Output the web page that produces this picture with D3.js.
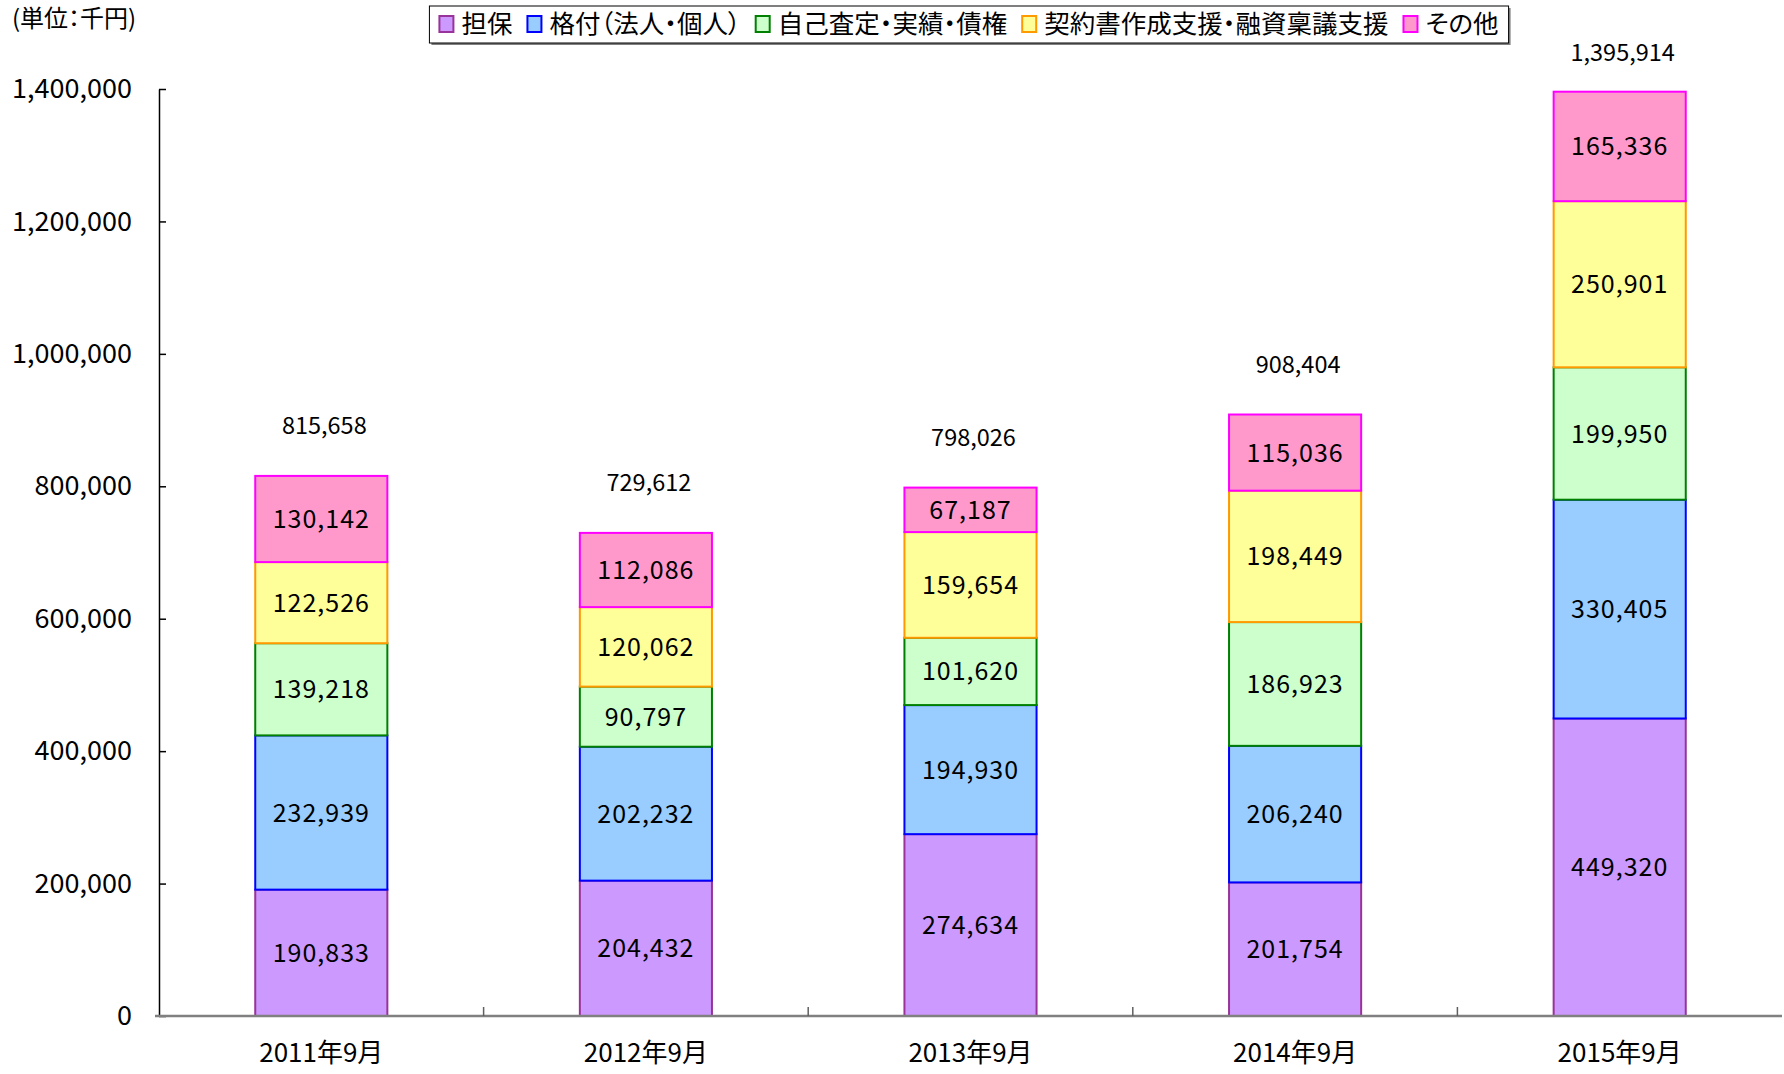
<!DOCTYPE html>
<html>
<head>
<meta charset="utf-8">
<script src="https://cdn.jsdelivr.net/npm/d3@7"></script>
<style>
body { margin: 0; background: #fff; }
text { font-family: "Noto Sans CJK JP", "Noto Sans", sans-serif; font-feature-settings: "palt"; }
</style>
</head>
<body>
<script>
// data (単位：千円)
var categories = ["2011年9月", "2012年9月", "2013年9月", "2014年9月", "2015年9月"];
var seriesNames = ["担保", "格付（法人・個人）", "自己査定・実績・債権", "契約書作成支援・融資稟議支援", "その他"];
var tanpo = [190833, 204432, 274634, 201754, 449320];
var kakuzuke = [232939, 202232, 194930, 206240, 330405];
var jikoSatei = [139218, 90797, 101620, 186923, 199950];
var keiyaku = [122526, 120062, 159654, 198449, 250901];
var sonota = [130142, 112086, 67187, 115036, 165336];
var totals = [815658, 729612, 798026, 908404, 1395914];
var yTicks = [0, 200000, 400000, 600000, 800000, 1000000, 1200000, 1400000];

var fills = ["#cc99ff", "#99ccff", "#ccffcc", "#ffff99", "#ff99cc"];
var strokes = ["#993399", "#0000ff", "#008000", "#ff9900", "#ff00ff"];

var W = 1784, H = 1074;
var svg = d3.select("body").append("svg")
    .attr("width", W)
    .attr("height", H);

var x = d3.scaleBand()
    .domain(categories)
    .range([159, 1782])
    .paddingInner(0.593)
    .paddingOuter(0.2965);
var y = d3.scaleLinear()
    .domain([0, 1400000])
    .range([1016, 89]);

// build the table for d3.stack
var table = categories.map(function (c, i) {
    return { cat: c, s0: tanpo[i], s1: kakuzuke[i], s2: jikoSatei[i], s3: keiyaku[i], s4: sonota[i] };
});
var stack = d3.stack().keys(["s0", "s1", "s2", "s3", "s4"]);
var layers = stack(table);

// y axis
var yAxis = svg.append("g")
    .attr("transform", "translate(159,0)")
    .call(d3.axisLeft(y).tickValues(yTicks).tickSize(-7).tickSizeOuter(0).tickPadding(27).tickFormat(d3.format(",")));
yAxis.select(".domain").attr("stroke", "#000").attr("stroke-width", 1.5);
yAxis.selectAll(".tick line").attr("stroke", "#000").attr("stroke-width", 1.5);
yAxis.selectAll(".tick text")
    .attr("font-size", 27)
    .attr("fill", "#000")
    .style("font-family", "\"Noto Sans CJK JP\", sans-serif");

// bars
layers.forEach(function (layer, k) {
    var g = svg.append("g");
    g.selectAll("rect")
        .data(layer)
        .join("rect")
        .attr("x", function (d) { return x(d.data.cat); })
        .attr("y", function (d) { return y(d[1]); })
        .attr("width", x.bandwidth())
        .attr("height", function (d) { return y(d[0]) - y(d[1]); })
        .attr("fill", fills[k])
        .attr("stroke", strokes[k])
        .attr("stroke-width", 2);
    g.selectAll("text")
        .data(layer)
        .join("text")
        .attr("x", function (d) { return x(d.data.cat) + x.bandwidth() / 2; })
        .attr("y", function (d) { return (y(d[0]) + y(d[1])) / 2; })
        .attr("dy", "0.36em")
        .attr("text-anchor", "middle")
        .attr("font-size", 25)
        .attr("letter-spacing", 1)
        .text(function (d) { return d3.format(",")(d[1] - d[0]); });
});

// x baseline and category ticks
var x0 = x.range()[0], step = x.step();
svg.append("line")
    .attr("x1", x0 - 4).attr("x2", x.range()[1])
    .attr("y1", y(0)).attr("y2", y(0))
    .attr("stroke", "#808080")
    .attr("stroke-width", 2.5);
d3.range(1, categories.length).forEach(function (i) {
    svg.append("line")
        .attr("x1", x0 + i * step).attr("x2", x0 + i * step)
        .attr("y1", y(0)).attr("y2", y(0) - 9)
        .attr("stroke", "#606060")
        .attr("stroke-width", 1.5);
});
svg.selectAll(".xlabel")
    .data(categories)
    .join("text")
    .attr("class", "xlabel")
    .attr("x", function (d) { return x(d) + x.bandwidth() / 2; })
    .attr("y", 1053)
    .attr("dy", "0.36em")
    .attr("text-anchor", "middle")
    .attr("font-size", 26)
    .text(function (d) { return d; });

// totals above bars
svg.selectAll(".total")
    .data(totals)
    .join("text")
    .attr("class", "total")
    .attr("x", function (d, i) { return x(categories[i]) + x.bandwidth() / 2 + 3; })
    .attr("y", function (d) { return Math.max(y(d) - 50, 53); })
    .attr("dy", "0.36em")
    .attr("text-anchor", "middle")
    .attr("font-size", 23.5)
    .text(function (d) { return d3.format(",")(d); });

// unit label
svg.append("text")
    .attr("x", 12)
    .attr("y", 27)
    .attr("font-size", 24)
    .text("(単位：千円)");

// legend
var legend = svg.append("g");
var shadow = legend.append("rect");
var box = legend.append("rect");
var cx = 0;
seriesNames.forEach(function (name, k) {
    legend.append("rect")
        .attr("x", cx).attr("y", -8)
        .attr("width", 14).attr("height", 16)
        .attr("fill", fills[k])
        .attr("stroke", strokes[k])
        .attr("stroke-width", 2);
    cx += 22;
    var t = legend.append("text")
        .attr("x", cx)
        .attr("y", 0)
        .attr("dy", "0.36em")
        .attr("font-size", 25.5)
        .text(name);
    cx += t.node().getComputedTextLength() + 15;
});
var lw = cx - 15;
box.attr("x", -10).attr("y", -18).attr("width", lw + 20).attr("height", 37)
    .attr("fill", "#fff").attr("stroke", "#000").attr("stroke-width", 1);
shadow.attr("x", -8).attr("y", -16).attr("width", lw + 20).attr("height", 37)
    .attr("fill", "#808080");
legend.attr("transform", "translate(" + (969 - lw / 2) + ",24)");
</script>
</body>
</html>
